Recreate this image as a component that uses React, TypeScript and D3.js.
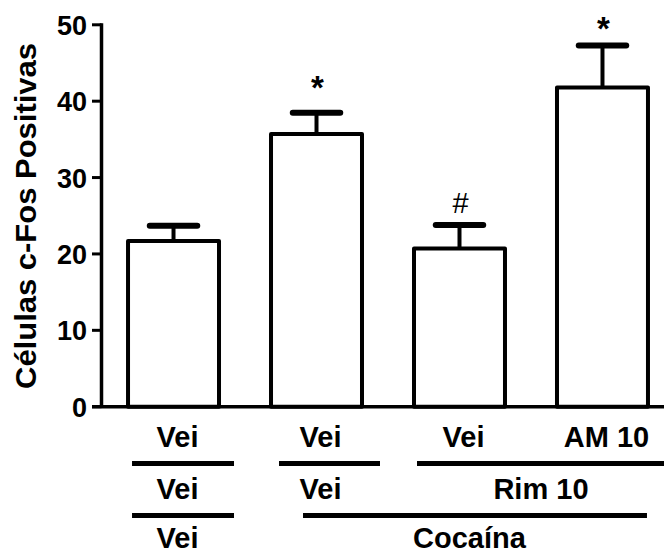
import React, { useEffect, useRef } from 'react';
import * as d3 from 'd3';

// c-Fos positive cells per group (mean and SEM)
const groups = ['veh-veh-veh', 'veh-veh-coc', 'veh-rim-coc', 'am-rim-coc'];
const means = [21.7, 35.7, 20.7, 41.8];
const sems = [2.0, 2.8, 3.1, 5.5];
const yTicks = [0, 10, 20, 30, 40, 50];

// significance marks and where they sit (in y units)
const marks = ['', '*', '#', '*'];
const markLevels = [0, 42.6, 26.7, 50.4];

// treatment rows under the axis: label, first bar, last bar
const row1 = [
  { label: 'Vei', from: 0, to: 0 },
  { label: 'Vei', from: 1, to: 1 },
  { label: 'Vei', from: 2, to: 2 },
  { label: 'AM 10', from: 3, to: 3 }
];
const row2 = [
  { label: 'Vei', from: 0, to: 0 },
  { label: 'Vei', from: 1, to: 1 },
  { label: 'Rim 10', from: 2, to: 3 }
];
const row3 = [
  { label: 'Vei', from: 0, to: 0 },
  { label: 'Cocaína', from: 1, to: 3 }
];

// line segments separating the rows, with pixel nudges
const lines1 = [
  { from: 0, to: 0, d0: 6, d1: 13 },
  { from: 1, to: 1, d0: 10, d1: 16 },
  { from: 2, to: 3, d0: 5, d1: 30 }
];
const lines2 = [
  { from: 0, to: 0, d0: 6, d1: 13 },
  { from: 1, to: 3, d0: 34, d1: -3 }
];

const FONT = 'Liberation Sans, Arial, Helvetica, sans-serif';

export default function App() {
  const svgRef = useRef<SVGSVGElement>(null);

  useEffect(() => {
    document.body.style.margin = '0';
    if (!svgRef.current) return;
    const svg = d3.select(svgRef.current);
    svg.selectAll('*').remove();

    const width = 664;
    const axisX = 101.5;

    const x = d3.scaleBand<string>()
      .domain(groups)
      .range([100, 676])
      .paddingInner(0.3357)
      .paddingOuter(0.182);
    const bw = x.bandwidth();

    const y = d3.scaleLinear()
      .domain([0, 50])
      .range([406.7, 24.8]);

    const g = svg.append('g');

    // bars with SEM
    groups.forEach((key, i) => {
      const x0 = x(key) as number;
      const cx = x0 + bw / 2;
      const top = y(means[i]);
      const errTop = y(means[i] + sems[i]);

      g.append('line')
        .attr('x1', cx).attr('x2', cx)
        .attr('y1', top).attr('y2', errTop)
        .attr('stroke', '#000')
        .attr('stroke-width', 4);

      g.append('line')
        .attr('x1', cx - bw / 4).attr('x2', cx + bw / 4)
        .attr('y1', errTop).attr('y2', errTop)
        .attr('stroke', '#000')
        .attr('stroke-width', 6)
        .attr('stroke-linecap', 'round');

      g.append('rect')
        .attr('x', x0 + 2)
        .attr('y', top)
        .attr('width', bw - 4)
        .attr('height', y(0) - top)
        .attr('fill', '#fff')
        .attr('stroke', '#000')
        .attr('stroke-width', 4)
        .attr('stroke-linejoin', 'round');

      if (marks[i]) {
        const isHash = marks[i] === '#';
        g.append('text')
          .attr('x', cx + 1)
          .attr('y', y(markLevels[i]) + (isHash ? 10 : 18))
          .attr('text-anchor', 'middle')
          .attr('font-family', FONT)
          .attr('font-size', isHash ? 29 : 33)
          .attr('font-weight', isHash ? 'normal' : 'bold')
          .attr('fill', '#000')
          .text(marks[i]);
      }
    });

    // y axis
    g.append('line')
      .attr('x1', axisX).attr('x2', axisX)
      .attr('y1', y(50) - 1.5).attr('y2', y(0))
      .attr('stroke', '#000')
      .attr('stroke-width', 3.5);

    yTicks.forEach(t => {
      g.append('line')
        .attr('x1', 92).attr('x2', axisX)
        .attr('y1', y(t)).attr('y2', y(t))
        .attr('stroke', '#000')
        .attr('stroke-width', 3);
      g.append('text')
        .attr('x', 87)
        .attr('y', y(t) + 10)
        .attr('text-anchor', 'end')
        .attr('font-family', FONT)
        .attr('font-size', 27)
        .attr('font-weight', 'bold')
        .attr('fill', '#000')
        .text(t);
    });

    // x axis
    g.append('line')
      .attr('x1', 92).attr('x2', width)
      .attr('y1', y(0)).attr('y2', y(0))
      .attr('stroke', '#000')
      .attr('stroke-width', 3.5);

    // y label
    g.append('text')
      .attr('transform', `translate(36,216) rotate(-90)`)
      .attr('text-anchor', 'middle')
      .attr('font-family', FONT)
      .attr('font-size', 30)
      .attr('font-weight', 'bold')
      .attr('textLength', 346)
      .attr('lengthAdjust', 'spacingAndGlyphs')
      .attr('fill', '#000')
      .text('Células c-Fos Positivas');

    // treatment rows
    const spanCenter = (from: number, to: number) =>
      ((x(groups[from]) as number) + (x(groups[to]) as number) + bw) / 2;

    const drawRow = (row: { label: string; from: number; to: number }[], baseline: number) => {
      row.forEach(r => {
        g.append('text')
          .attr('x', spanCenter(r.from, r.to) + (r.from === r.to ? 4 : 10))
          .attr('y', baseline)
          .attr('text-anchor', 'middle')
          .attr('font-family', FONT)
          .attr('font-size', 29)
          .attr('font-weight', 'bold')
          .attr('fill', '#000')
          .text(r.label);
      });
    };

    const drawLines = (segs: { from: number; to: number; d0: number; d1: number }[], ly: number) => {
      segs.forEach(s => {
        g.append('line')
          .attr('x1', (x(groups[s.from]) as number) + s.d0)
          .attr('x2', (x(groups[s.to]) as number) + bw + s.d1)
          .attr('y1', ly).attr('y2', ly)
          .attr('stroke', '#000')
          .attr('stroke-width', 5);
      });
    };

    drawRow(row1, 447);
    drawLines(lines1, 463.5);
    drawRow(row2, 499);
    drawLines(lines2, 515.5);
    drawRow(row3, 548);
  }, []);

  return (
    <svg
      ref={svgRef}
      width={664}
      height={555}
      style={{ display: 'block', background: '#fff' }}
    />
  );
}
